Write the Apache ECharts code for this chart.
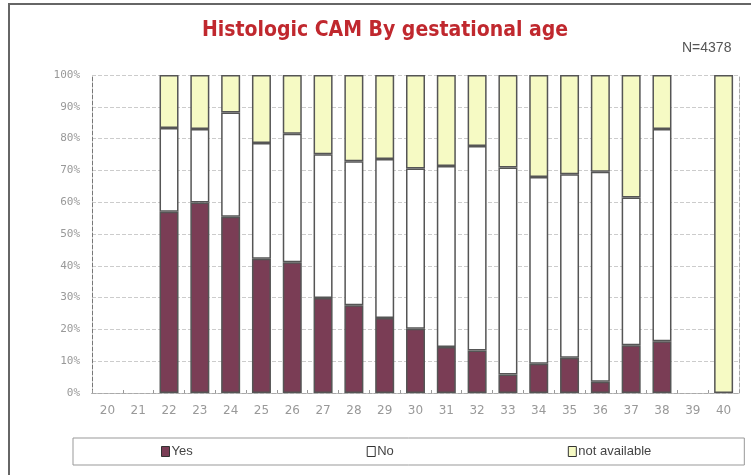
<!DOCTYPE html>
<html>
<head>
<meta charset="utf-8">
<script src="https://cdn.jsdelivr.net/npm/echarts@6/dist/echarts.min.js"></script>
<style>html,body{margin:0;padding:0;background:#fff;}#c{width:751px;height:475px;}</style>
</head>
<body>
<div id="c"></div>
<script>
var categories = ['20','21','22','23','24','25','26','27','28','29','30','31','32','33','34','35','36','37','38','39','40'];
var yesValues = [null,null,57.0,59.9,55.4,42.2,41.1,29.9,27.6,23.6,20.2,14.5,13.4,5.8,9.2,11.1,3.5,15.0,16.3,null,null];
var noValues  = [null,null,26.3,23.1,32.8,36.4,40.4,45.2,45.3,50.0,50.4,56.9,64.3,65.1,58.7,57.7,66.1,46.5,66.7,null,null];
var naValues  = [null,null,16.7,17.0,11.8,21.4,18.5,24.9,27.1,26.4,29.4,28.6,22.3,29.1,32.1,31.2,30.4,38.5,17.0,null,100];
var yTicks = [0,10,20,30,40,50,60,70,80,90,100];

var chart = echarts.init(document.getElementById('c'), null, {renderer:'canvas'});
var barBorder = {borderColor:'#555', borderWidth:1.5};
function s(name, data, color){
  return {name:name, type:'bar', stack:'all', data:data, barWidth:19,
    itemStyle:Object.assign({color:color}, barBorder)};
}
var legIcon = {borderColor:'#333', borderWidth:1};
chart.setOption({
  animation:false,
  graphic:[{type:'rect', shape:{x:9,y:4,width:760,height:500}, style:{fill:'none', stroke:'#666', lineWidth:2}, z:-1}],
  title:[{text:'Histologic CAM By gestational age', left:380, top:15, textAlign:'center',
     textStyle:{color:'#c0282e', fontSize:21, fontWeight:'bold', fontFamily:'DejaVu Sans Condensed'}},
    {text:'N=4378', left:677, top:36, textStyle:{color:'#555', fontSize:14, fontWeight:'normal', fontFamily:'Liberation Sans'}}],
  legend:{left:73, top:438, padding:[7,93,7,88], itemGap:174, itemWidth:8, itemHeight:10, icon:'rect',
    borderColor:'#999', borderWidth:1,
    textStyle:{color:'#444', fontSize:13, fontFamily:'Liberation Sans', padding:[0,0,0,-3]},
    data:[{name:'Yes',itemStyle:legIcon},{name:'No',itemStyle:legIcon},{name:'not available',itemStyle:legIcon}]},
  grid:{left:92, right:12, top:75, bottom:82, containLabel:false},
  xAxis:[{type:'category', data:categories,
    axisLine:{lineStyle:{color:'#777', type:'dashed', width:1}},
    axisTick:{show:true, inside:true, length:3, lineStyle:{color:'#999'}},
    axisLabel:{color:'#999', fontSize:12, fontFamily:'DejaVu Sans', margin:12}},
    {type:'category', position:'top', data:categories, axisLine:{lineStyle:{color:'#aaa', type:'dashed'}}, axisTick:{show:false}, axisLabel:{show:false}}],
  yAxis:[{type:'value', min:0, max:100, interval:10,
    axisLine:{show:true, lineStyle:{color:'#777', type:'dashed', width:1}},
    axisTick:{show:false},
    splitLine:{show:true, lineStyle:{color:'#ccc', type:'dashed'}},
    axisLabel:{color:'#999', fontSize:11, fontFamily:'DejaVu Sans Mono', margin:12, formatter:function(v){return yTicks.indexOf(v)>=0 ? v+'%' : '';}}},
    {type:'value', min:0, max:100, interval:10, position:'right', axisLine:{show:true, lineStyle:{color:'#aaa', type:'dashed'}}, axisTick:{show:false}, axisLabel:{show:false}, splitLine:{show:false}}],
  series:[s('Yes', yesValues, '#7a3d55'), s('No', noValues, '#ffffff'), s('not available', naValues, '#f6fac4')]
});
</script>
</body>
</html>
